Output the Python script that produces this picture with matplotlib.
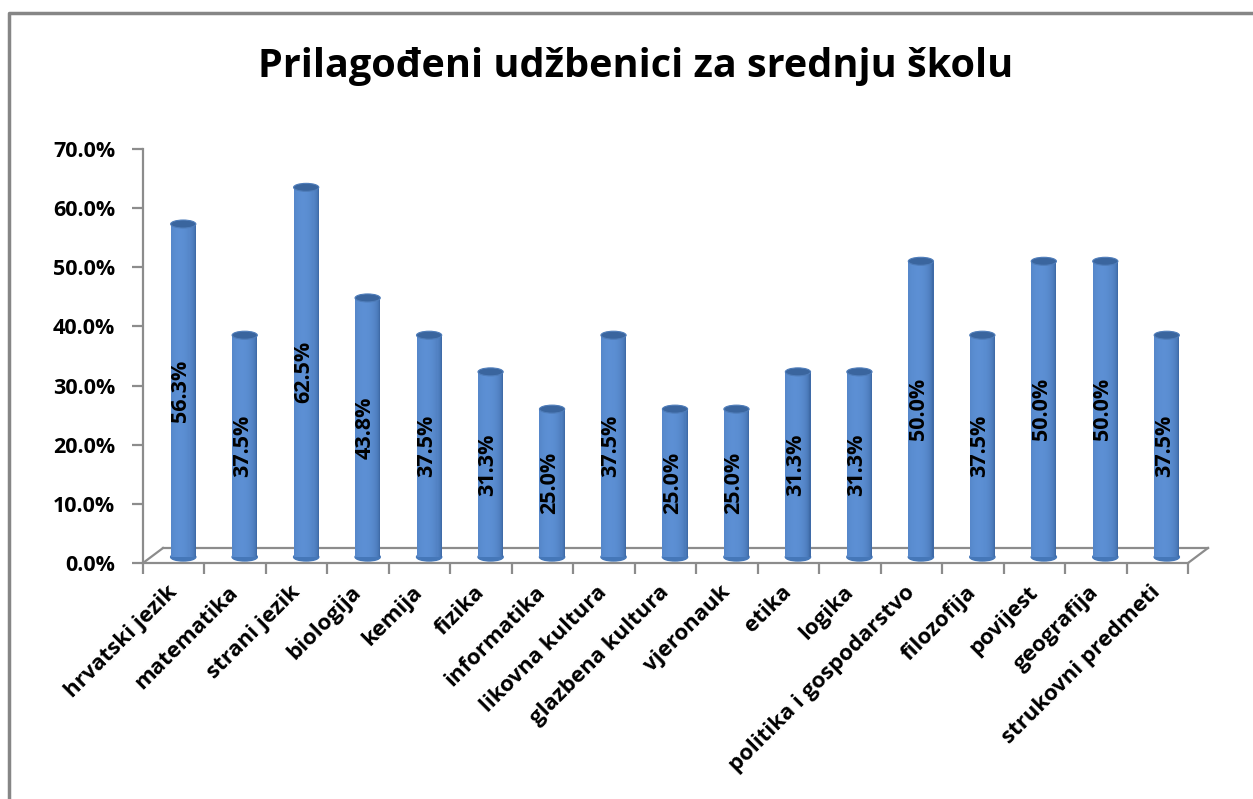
import numpy as np
import matplotlib
matplotlib.use("Agg")
import matplotlib.pyplot as plt
from matplotlib.patches import Rectangle, Ellipse
from matplotlib.transforms import ScaledTranslation

plt.rcParams['font.family'] = ['Open Sans', 'DejaVu Sans']

subjects = ['hrvatski jezik', 'matematika', 'strani jezik', 'biologija', 'kemija',
            'fizika', 'informatika', 'likovna kultura', 'glazbena kultura', 'vjeronauk',
            'etika', 'logika', 'politika i gospodarstvo', 'filozofija', 'povijest',
            'geografija', 'strukovni predmeti']
shares = [0.563, 0.375, 0.625, 0.438, 0.375, 0.313, 0.250, 0.375, 0.250, 0.250,
          0.313, 0.313, 0.500, 0.375, 0.500, 0.500, 0.375]
yticks = [0.0, 0.1, 0.2, 0.3, 0.4, 0.5, 0.6, 0.7]

DPI = 100
fig = plt.figure(figsize=(12.53, 7.99), dpi=DPI)
ax = fig.add_axes([143 / 1253, 1 - 563 / 799, 1045 / 1253, 414 / 799])
n = len(subjects)
ax.set_xlim(0, n)
ax.set_ylim(0, 0.7)

grey = '#8c8c8c'
for s in ['top', 'right']:
    ax.spines[s].set_visible(False)
for s in ['left', 'bottom']:
    ax.spines[s].set_color(grey)
    ax.spines[s].set_linewidth(1.6)

# y axis
ax.set_yticks(yticks)
ax.set_yticklabels(['%.1f%%' % (v * 100) for v in yticks])
ax.tick_params(axis='y', direction='out', length=8, width=1.6, color=grey,
               labelsize=15.5, pad=12)
for t in ax.get_yticklabels():
    t.set_fontweight('bold')

# x axis: ticks on category borders, labels on centres
ax.set_xticks(np.arange(n + 1))
ax.set_xticklabels([])
ax.tick_params(axis='x', which='major', direction='out', length=8, width=1.6, color=grey)
ax.set_xticks(np.arange(n) + 0.5, minor=True)
ax.set_xticklabels(subjects, minor=True, rotation=45, ha='right', va='center',
                   rotation_mode='anchor', fontsize=16, fontweight='bold')
ax.tick_params(axis='x', which='minor', length=0, pad=19)

# floor of the 3d plot
def shifted(dx, dy):
    return ax.transData + ScaledTranslation(dx / DPI, dy / DPI, fig.dpi_scale_trans)

back = shifted(20, 15)
ax.plot([0, n], [0, 0], color=grey, lw=1.6, transform=back, clip_on=False)
for xe in [0, n]:
    p0 = ax.transData.transform((xe, 0))
    p1 = back.transform((xe, 0))
    ax.add_line(plt.Line2D([p0[0], p1[0]], [p0[1], p1[1]], color=grey, lw=1.6,
                           transform=None, clip_on=False))

# cylinders
mid = shifted(9.5, 6)
bw = 0.41
ell_h = 8 / 414 * 0.7
dark = np.array([0.19, 0.35, 0.57])
light = np.array([0.36, 0.56, 0.83])
strips = 24
edges = np.linspace(-1, 1, strips + 1)
for i, v in enumerate(shares):
    xc = i + 0.5
    ax.add_patch(Ellipse((xc, 0), bw, ell_h, color='#4577b8', transform=mid,
                         clip_on=False, zorder=2))
    for k in range(strips):
        t = (edges[k] + edges[k + 1]) / 2
        shade = np.sqrt(max(0.0, 1 - ((t + 0.25) / 1.25) ** 2)) ** 0.8
        col = dark + (light - dark) * shade
        x0 = xc - bw / 2 + (edges[k] + 1) / 2 * bw
        ax.add_patch(Rectangle((x0, 0), bw / strips * 1.02, v, color=col, lw=0,
                               transform=mid, clip_on=False, zorder=3))
    ax.add_patch(Ellipse((xc, v), bw, ell_h, facecolor='#3a659e', edgecolor='#4f7dba',
                         lw=0.8, transform=mid, clip_on=False, zorder=4))
    ax.text(xc, v / 2, '%.1f%%' % (v * 100), rotation=90, ha='center', va='center',
            fontsize=15.5, fontweight='bold', color='black',
            transform=shifted(7, 6), zorder=5)

fig.text(636 / 1253, 1 - 66 / 799, 'Prilagođeni udžbenici za srednju školu',
         ha='center', va='center', fontsize=28.5, fontweight='bold')

# chart border
fig.add_artist(plt.Line2D([9 / 1253, 9 / 1253, 1], [0, 1 - 13 / 799, 1 - 13 / 799],
                          color='#868686', lw=2.5, transform=fig.transFigure))

fig.savefig('out.png', dpi=DPI)
